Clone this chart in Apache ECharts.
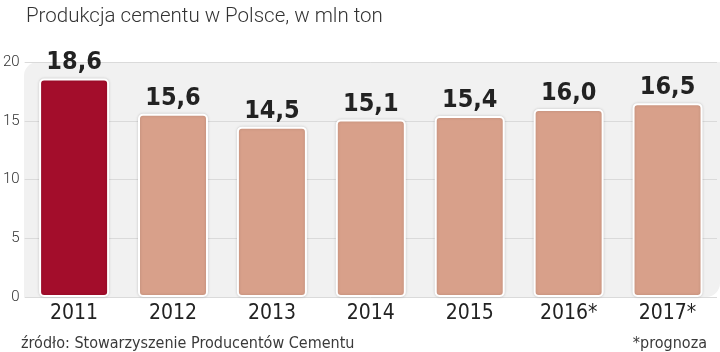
<!DOCTYPE html>
<html>
<head>
<meta charset="utf-8">
<style>
  html, body { margin: 0; padding: 0; background: #fff; }
  #chart { width: 720px; height: 352px; }
</style>
<script src="https://cdn.jsdelivr.net/npm/echarts@6/dist/echarts.min.js"></script>
</head>
<body>
<div id="chart"></div>
<script>
// dane
var years = ['2011', '2012', '2013', '2014', '2015', '2016*', '2017*'];
var production = [18.6, 15.6, 14.5, 15.1, 15.4, 16.0, 16.5];
var yTicks = [0, 5, 10, 15, 20];

var darkRed = '#a30d2b';
var salmon = '#d8a08a';
var narrow = "'DejaVu Sans Condensed', 'Liberation Sans Narrow', sans-serif";

var chart = echarts.init(document.getElementById('chart'));

chart.setOption({
  animation: false,
  graphic: [{
    type: 'rect',
    z: -10,
    shape: { x: 24, y: 62, width: 696, height: 235, r: [14, 0, 14, 0] },
    style: { fill: '#f1f1f1' }
  }],
  title: [{
    text: 'Produkcja cementu w Polsce, w mln ton',
    left: 21,
    top: 1,
    textStyle: { fontFamily: 'Roboto', fontWeight: 300, fontSize: 20.5, color: '#333' }
  }, {
    text: 'źródło: Stowarzyszenie Producentów Cementu',
    left: 16,
    top: 331,
    textStyle: { fontFamily: narrow, fontWeight: 'normal', fontSize: 16, color: '#3a3a3a' }
  }, {
    text: '*prognoza',
    right: 8,
    top: 331,
    textStyle: { fontFamily: narrow, fontWeight: 'normal', fontSize: 16, color: '#3a3a3a' }
  }],
  grid: { left: 24, right: 3, top: 62, bottom: 55 },
  xAxis: {
    type: 'category',
    data: years,
    axisLine: { show: false },
    axisTick: { show: false },
    axisLabel: {
      margin: 6,
      fontFamily: narrow,
      fontSize: 21,
      color: '#222'
    }
  },
  yAxis: {
    type: 'value',
    min: 0,
    max: 20,
    interval: 5,
    axisLine: { show: false },
    axisTick: { show: false },
    splitLine: { lineStyle: { color: '#dadada', width: 1 } },
    axisLabel: {
      margin: 5,
      fontFamily: 'Roboto',
      fontWeight: 300,
      fontSize: 15,
      color: '#333',
      formatter: function (v) { return yTicks.indexOf(v) > -1 ? String(v) : ''; }
    }
  },
  series: [{
    type: 'bar',
    barWidth: 70,
    data: production.map(function (v, i) {
      return { value: v, itemStyle: { color: i === 0 ? darkRed : salmon } };
    }),
    itemStyle: {
      borderColor: '#fff',
      borderWidth: 2,
      borderRadius: 4,
      shadowColor: 'rgba(0,0,0,0.15)',
      shadowBlur: 3
    },
    label: {
      show: true,
      position: 'top',
      distance: 3,
      fontFamily: narrow,
      fontWeight: 'bold',
      fontSize: 25,
      color: '#222',
      formatter: function (p) { return p.value.toFixed(1).replace('.', ','); }
    }
  }]
});
</script>
</body>
</html>
